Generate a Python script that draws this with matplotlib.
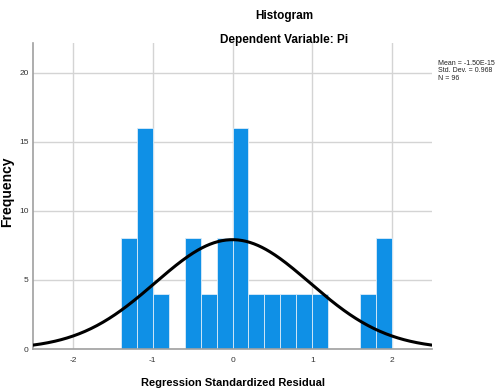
import numpy as np
import matplotlib
matplotlib.use("Agg")
import matplotlib.pyplot as plt

# Data
bin_left_edges = [-1.4, -1.2, -1.0, -0.8, -0.6, -0.4, -0.2, 0.0, 0.2, 0.4, 0.6, 0.8, 1.0, 1.2, 1.4, 1.6, 1.8]
bin_counts = [8, 16, 4, 0, 8, 4, 8, 16, 4, 4, 4, 4, 4, 0, 0, 4, 8]
bin_width = 0.2
mean_val = -1.50e-15
std_val = 0.968
n_val = 96
x_ticks = [-2, -1, 0, 1, 2]
y_ticks = [0, 5, 10, 15, 20]

fig = plt.figure(figsize=(4.98, 3.92), dpi=100)
ax = fig.add_axes([33/498, 1-349/392, (432-33)/498, (349-42.7)/392])

ax.bar(bin_left_edges, bin_counts, width=bin_width, align="edge",
       color="#0f90e6", edgecolor="#dcecf8", linewidth=0.6, zorder=2)

xs = np.linspace(-2.5, 2.5, 400)
ys = n_val * bin_width / (std_val * np.sqrt(2*np.pi)) * np.exp(-0.5*((xs-mean_val)/std_val)**2)
ax.plot(xs, ys, color="black", linewidth=2.2, zorder=3)

ax.set_xlim(-2.5, 2.5)
ax.set_ylim(0, 22.17)
ax.set_xticks(x_ticks)
ax.set_yticks(y_ticks)
ax.set_xticklabels([str(t) for t in x_ticks], fontsize=6, color="#333333", family="Liberation Sans")
ax.set_yticklabels([str(t) for t in y_ticks], fontsize=6, color="#333333", family="Liberation Sans")
ax.tick_params(axis="x", length=0, pad=6)
ax.tick_params(axis="y", length=0, pad=3)
ax.grid(True, color="#d4d4d4", linewidth=1.0, zorder=0)
ax.set_axisbelow(True)
for s in ["top", "right"]:
    ax.spines[s].set_visible(False)
for s in ["left", "bottom"]:
    ax.spines[s].set_color("#a0a0a0")
    ax.spines[s].set_linewidth(1.2)

fig.text(284/498, 1-16/392, "Histogram", ha="center", va="center", fontsize=8.5,
         fontweight="bold", family="Liberation Sans")
fig.text(284/498, 1-40/392, "Dependent Variable: Pi", ha="center", va="center", fontsize=8.5,
         fontweight="bold", family="Liberation Sans")
fig.text(233/498, 1-383/392, "Regression Standardized Residual", ha="center", va="center",
         fontsize=8, fontweight="bold", family="Liberation Sans")
fig.text(7/498, 1-192/392, "Frequency", ha="center", va="center", rotation=90,
         fontsize=10, fontweight="bold", family="Liberation Sans")
fig.text(438/498, 1-71/392, f"Mean = {mean_val:.2E}\nStd. Dev. = {std_val}\nN = {n_val}",
         ha="left", va="center", fontsize=5.0, family="Liberation Sans", linespacing=1.15,
         color="#222222")

fig.savefig("out.png", dpi=100)
